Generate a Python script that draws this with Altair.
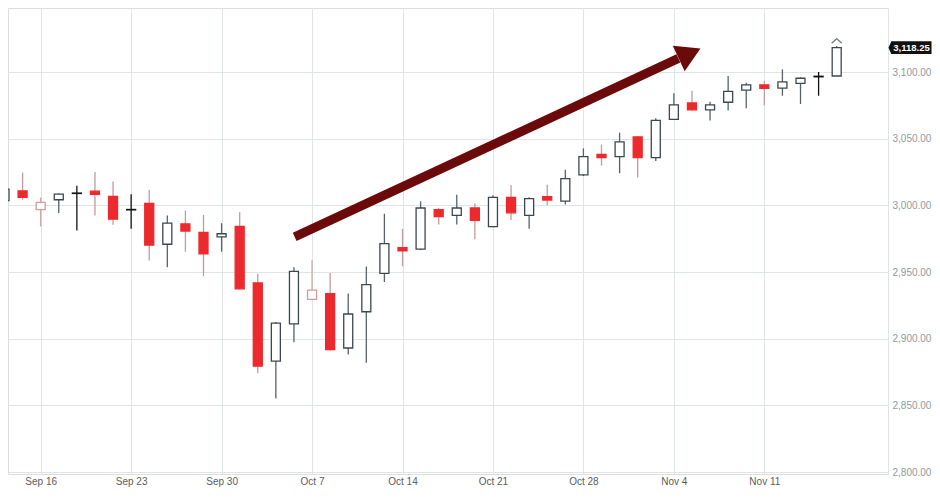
import altair as alt
import pandas as pd

# ---------------- data ----------------
dates = ["Sep 12", "Sep 13", "Sep 16", "Sep 17", "Sep 18", "Sep 19", "Sep 20",
         "Sep 23", "Sep 24", "Sep 25", "Sep 26", "Sep 27", "Sep 30", "Oct 1",
         "Oct 2", "Oct 3", "Oct 4", "Oct 7", "Oct 8", "Oct 9", "Oct 10", "Oct 11",
         "Oct 14", "Oct 15", "Oct 16", "Oct 17", "Oct 18", "Oct 21", "Oct 22",
         "Oct 23", "Oct 24", "Oct 25", "Oct 28", "Oct 29", "Oct 30", "Oct 31",
         "Nov 1", "Nov 4", "Nov 5", "Nov 6", "Nov 7", "Nov 8", "Nov 11", "Nov 12",
         "Nov 13", "Nov 14", "Nov 15"]

opens = [3003.5, 3010.9, 2996.8, 3004.2, 3008.9, 3010.6, 3006.7,
         2996.6, 3001.5, 2970.8, 2986.1, 2979.7, 2976.3, 2984.2,
         2941.8, 2883.2, 2911.1, 2929.4, 2933.8, 2893.0, 2920.2, 2949.0,
         2968.3, 2967.2, 2996.8, 2992.4, 2998.0, 2984.0, 3006.0,
         2992.4, 3006.5, 3003.1, 3022.8, 3038.2, 3036.5, 3051.3,
         3035.8, 3064.4, 3076.8, 3071.6, 3077.3, 3086.4, 3090.4, 3087.9,
         3091.4, 3096.4, 3097.0]

highs = [3014.0, 3024.5, 3005.9, 3008.8, 3014.6, 3025.0, 3017.9,
         3008.4, 3011.7, 2992.4, 2996.1, 2992.8, 2986.6, 2994.8,
         2948.7, 2912.5, 2953.6, 2959.0, 2949.2, 2933.8, 2954.2, 2993.7,
         2982.4, 3003.0, 2998.0, 3008.0, 3001.5, 3007.5, 3015.0,
         3006.0, 3015.5, 3026.6, 3042.7, 3045.6, 3054.5, 3052.0,
         3065.4, 3084.0, 3085.9, 3077.7, 3097.0, 3092.0, 3093.3, 3102.0,
         3096.0, 3100.0, 3119.5]

lows = [3001.0, 3004.2, 2984.2, 2994.3, 2981.2, 2992.4, 2985.4,
        2982.4, 2958.6, 2953.6, 2965.2, 2946.9, 2965.2, 2937.0,
        2874.0, 2855.2, 2897.3, 2928.8, 2891.0, 2888.1, 2881.9, 2942.5,
        2954.2, 2966.5, 2985.7, 2985.7, 2974.6, 2983.5, 2989.0,
        2982.4, 3000.0, 3000.6, 3022.0, 3029.8, 3024.1, 3020.9,
        3033.2, 3064.0, 3071.0, 3063.7, 3071.1, 3072.8, 3074.8, 3082.2,
        3076.0, 3082.2, 3097.0]

closes = [3012.1, 3005.9, 3002.2, 3008.4, 3009.2, 3008.2, 2989.6,
          2996.9, 2970.1, 2986.6, 2980.7, 2963.6, 2978.7, 2937.4,
          2879.4, 2911.6, 2950.4, 2936.4, 2891.8, 2918.5, 2940.5, 2971.3,
          2965.8, 2998.0, 2991.6, 2998.0, 2988.7, 3006.0, 2994.4,
          3005.0, 3004.0, 3020.0, 3036.5, 3035.8, 3047.6, 3035.8,
          3063.7, 3075.3, 3071.6, 3075.3, 3085.5, 3090.4, 3087.7, 3092.6,
          3095.3, 3096.8, 3118.25]

week_ticks = [2, 7, 12, 17, 22, 27, 32, 37, 42]
week_labels = ["Sep 16", "Sep 23", "Sep 30", "Oct 7", "Oct 14", "Oct 21",
               "Oct 28", "Nov 4", "Nov 11"]

price_ticks = [2800, 2850, 2900, 2950, 3000, 3050, 3100]

# annotation arrow (data coordinates: trading-day index, price)
arrow_x = [16.04, 37.25]
arrow_y = [2976.3, 3110.2]
arrow_head_x = [37.87]
arrow_head_y = [3113.9]

last_price = [3118.25]
last_label = ["3,118.25"]

# ---------------- styling derived from the data ----------------
RED = "#ec2a2d"
DARK = "#3b474d"
PINK = "#d79a9a"
rows = []
for i, (d, o, h, l, c) in enumerate(zip(dates, opens, highs, lows, closes)):
    prev = closes[i - 1] if i > 0 else o
    if abs(c - o) < 1.0:
        fill, stroke, wick = "#111111", "#111111", "#111111"
    elif c < o:
        fill, stroke, wick = RED, RED, "#c49a9a"
    elif c < prev:
        fill, stroke, wick = "#ffffff", PINK, "#cfa8a8"
    else:
        fill, stroke, wick = "#ffffff", DARK, "#56636a"
    rows.append(dict(i=i, date=d, open=o, high=h, low=l, close=c,
                     lo=min(o, c), hi=max(o, c), fill=fill, stroke=stroke, wick=wick))
df = pd.DataFrame(rows)

arrow_df = pd.DataFrame({"x": [arrow_x[0]], "x2": [arrow_x[1]],
                         "y": [arrow_y[0]], "y2": [arrow_y[1]]})
head_df = pd.DataFrame({"x": arrow_head_x, "y": arrow_head_y})
tag_df = pd.DataFrame({"y": last_price, "label": last_label})
hat_df = pd.DataFrame({"x": [46], "y": [3123.5]})

XDOM = [0.47, 48.56]
YDOM = [2798.5, 3148.0]
FONT = "Liberation Sans"
GRID = "#dfe4e7"

tick_arr = "[" + ",".join(str(t) for t in week_ticks) + "]"
lab_arr = "[" + ",".join("'" + s + "'" for s in week_labels) + "]"

x_scale = alt.Scale(domain=XDOM, nice=False, zero=False)
y_scale = alt.Scale(domain=YDOM, nice=False, zero=False)

x_axis = alt.Axis(values=week_ticks, labelExpr=f"{lab_arr}[indexof({tick_arr}, datum.value)]",
                  title=None, domain=False, ticks=False, labelPadding=2,
                  labelFont=FONT, labelFontSize=10, labelColor="#5b5b5b",
                  grid=True, gridColor=GRID, gridWidth=1)
y_axis = alt.Axis(values=price_ticks, format=",.2f", orient="right", title=None,
                  domain=True, domainColor=GRID, ticks=False, labelPadding=4,
                  labelFont=FONT, labelFontSize=10, labelColor="#8e9aa2",
                  grid=True, gridColor=GRID, gridWidth=1)

base = alt.Chart(df)

wicks = base.mark_rule(strokeWidth=1.3, clip=True).encode(
    x=alt.X("i:Q", scale=x_scale, axis=x_axis),
    y=alt.Y("low:Q", scale=y_scale, axis=y_axis),
    y2="high:Q",
    color=alt.Color("wick:N", scale=None),
)

bodies = base.mark_bar(width=9, strokeWidth=1.3, clip=True).encode(
    x="i:Q",
    y="lo:Q",
    y2="hi:Q",
    fill=alt.Fill("fill:N", scale=None),
    stroke=alt.Stroke("stroke:N", scale=None),
)

hat = alt.Chart(hat_df).mark_point(
    shape="M-1,0.5L0,-0.4L1,0.5", filled=False, size=100, strokeWidth=1.3, color=DARK
).encode(x="x:Q", y="y:Q")

shaft = alt.Chart(arrow_df).mark_rule(strokeWidth=9, color="#6b0a0a", strokeCap="butt").encode(
    x="x:Q", x2="x2:Q", y="y:Q", y2="y2:Q"
)

head = alt.Chart(head_df).mark_point(
    shape="M-0.857,-1L0.857,0L-0.857,1Z", filled=True, size=784, angle=335,
    color="#6b0a0a", opacity=1, strokeWidth=0
).encode(x="x:Q", y="y:Q")

tag = alt.Chart(tag_df).mark_point(
    shape="M-1,0L-0.87,-0.3L1,-0.3L1,0.3L-0.87,0.3Z", filled=True, size=1849,
    color="#111111", opacity=1, strokeWidth=0
).encode(x=alt.value(902), y="y:Q")

tag_text = alt.Chart(tag_df).mark_text(
    font=FONT, fontSize=9.5, fontWeight="bold", color="#ffffff", align="center", baseline="middle"
).encode(x=alt.value(903.5), y="y:Q", text="label:N")

chart = alt.layer(wicks, bodies, hat, shaft, head, tag, tag_text).properties(
    width=880, height=466,
    autosize=alt.AutoSizeParams(type="none"),
    padding={"left": 0, "top": 0, "right": 44, "bottom": 14},
).configure_view(stroke=None).configure(background="#ffffff")

chart.save("out.html", embed_options={"renderer": "svg", "actions": False})
